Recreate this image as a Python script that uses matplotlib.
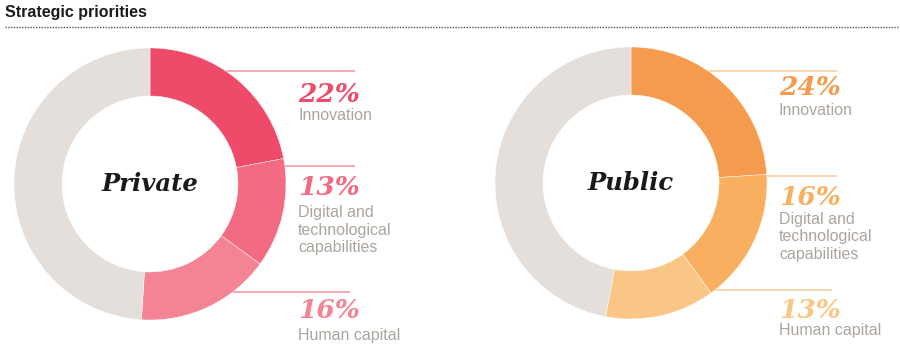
import matplotlib
matplotlib.use("Agg")
import matplotlib.pyplot as plt

# data
groups = ["Private", "Public"]
categories = ["Innovation", "Digital and\ntechnological\ncapabilities", "Human capital"]
private_vals = [22, 13, 16]
public_vals = [24, 16, 13]

private_colors = ["#EE4B6A", "#F26B82", "#F48396"]
public_colors = ["#F59B4E", "#F8B060", "#FAC685"]
rest_color = "#E4DFDA"
label_color = "#ABA59F"

fig = plt.figure(figsize=(9, 3.6), dpi=100)
ax = fig.add_axes([0, 0, 1, 1])

H = 360
R, W = 136, 48

# layout for each donut: center x, center y (pixel from top), leader lines, text positions
layouts = [
    dict(cx=150, cy=184, line_y=[71, 166, 292], line_end=[355, 355, 350],
         tx=298, pct_base=[102, 195, 318], lab_base=[120, 217, 340],
         lcol="#F29AAA"),
    dict(cx=631, cy=183, line_y=[71, 176, 290], line_end=[837, 837, 832],
         tx=779, pct_base=[95, 205, 318], lab_base=[115, 224, 335],
         lcol="#F9CFA3"),
]

for name, vals, cols, lay in zip(groups, [private_vals, public_vals],
                                 [private_colors, public_colors], layouts):
    cx, cy = lay["cx"], H - lay["cy"]
    ax.pie(vals + [100 - sum(vals)], colors=cols + [rest_color],
           startangle=90, counterclock=False, radius=R, center=(cx, cy),
           wedgeprops=dict(width=W, edgecolor="white", linewidth=0.3))
    ax.text(cx, cy, name, ha="center", va="center", fontsize=17.5,
            family="DejaVu Serif", style="italic", weight="bold", color="#1a1a1a")
    for i, (v, cat) in enumerate(zip(vals, categories)):
        ly = H - lay["line_y"][i]
        dy = abs(ly - cy)
        x0 = cx + (R ** 2 - dy ** 2) ** 0.5
        ax.plot([x0, lay["line_end"][i]], [ly, ly], color=lay["lcol"], lw=1.2,
                solid_capstyle="butt")
        ax.text(lay["tx"], H - lay["pct_base"][i], f"{v}%", ha="left",
                va="baseline", fontsize=19, family="DejaVu Serif",
                style="italic", weight="bold", color=cols[i])
        for j, line in enumerate(cat.split("\n")):
            ax.text(lay["tx"], H - lay["lab_base"][i] - j * 17.5, line,
                    ha="left", va="baseline", fontsize=11.5,
                    family="Liberation Sans", color=label_color)

# title and dotted rule
ax.text(5, H - 13, "Strategic priorities", ha="left", va="center",
        fontsize=11.5, weight="bold", family="Liberation Sans", color="#1a1a1a")
ax.plot([5, 900], [H - 27, H - 27], color="#555555", lw=1, ls=(0, (1, 1)))

ax.set_xlim(0, 900)
ax.set_ylim(0, H)
ax.set_aspect("equal")
ax.axis("off")

fig.savefig("out.png", dpi=100)
